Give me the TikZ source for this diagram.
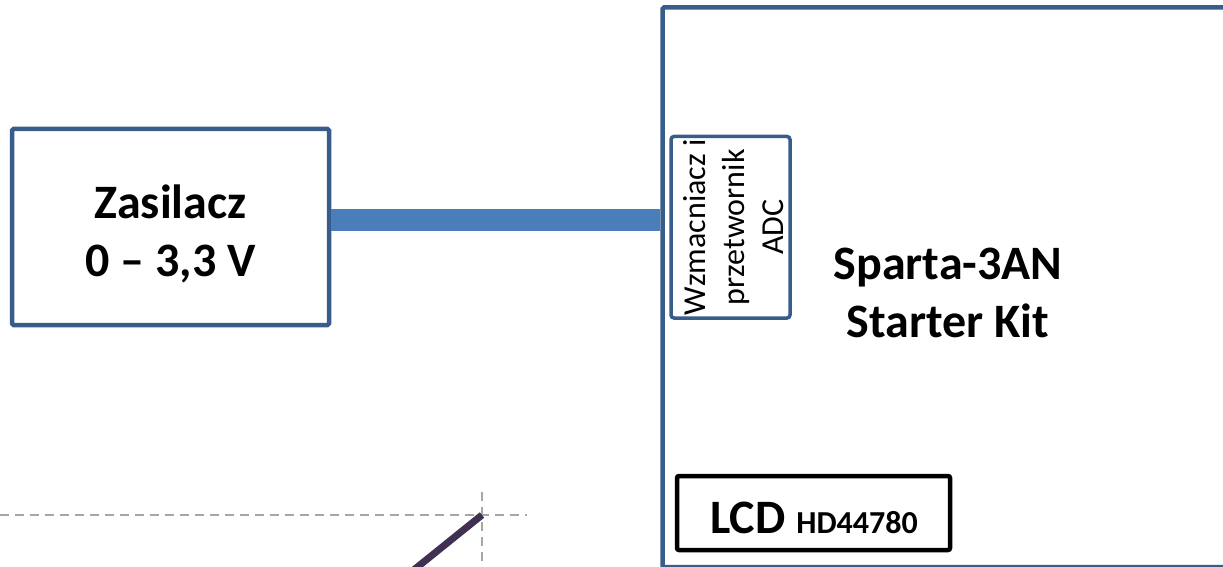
\documentclass[tikz,border=0pt]{standalone}
\usepackage{fontspec}
\setmainfont{Carlito}
\definecolor{boxblue}{HTML}{385D8A}
\definecolor{barblue}{HTML}{4A7EBB}
\definecolor{dashgray}{HTML}{A6A6A6}
\definecolor{darkpurple}{HTML}{403152}
\begin{document}
\begin{tikzpicture}[x=1pt,y=1pt,
  bluebox/.style={draw=boxblue, line width=4.5pt, inner sep=0pt, rounded corners=1.5pt},
  adcbox/.style={draw=boxblue, line width=3.5pt, inner sep=0pt, rounded corners=3pt},
  lcdbox/.style={draw=black, line width=4.5pt, inner sep=0pt, rounded corners=2pt},
  bigtext/.style={font=\bfseries\fontsize{48}{58}\selectfont, align=center},
  bar/.style={line width=22pt, barblue},
  guide/.style={draw=dashgray, line width=1.5pt, dash pattern=on 9pt off 6pt},
  needle/.style={draw=darkpurple, line width=7pt}]
\useasboundingbox (0,0) rectangle (1223,566);
\clip (0,0) rectangle (1223,566);
% boxes
\node[bluebox, minimum width=577.5pt, minimum height=559.5pt] (sparta) at (951.25,278.75) {};
\node[bigtext] (spartatext) at (948,273) {Sparta-3AN\\Starter Kit};
\node[bluebox, minimum width=317pt, minimum height=196pt] (zas) at (170.5,339) {};
\node[bigtext] (zastext) at (170.5,332) {Zasilacz\\0 – 3,3 V};
\node[adcbox, rotate=90, minimum width=181.5pt, minimum height=119pt] (adc) at (730.5,338.75) {};
\node[rotate=90, align=center, font=\fontsize{32}{39}\selectfont] (adctext) at (734,338.75)
  {Wzmacniacz i\\przetwornik\\ADC};
\node[lcdbox, minimum width=273pt, minimum height=74pt] (lcd) at (813.5,53) {};
\node[font=\bfseries, inner sep=0pt] (lcdtext) at (814,48)
  {\fontsize{48}{48}\selectfont LCD \fontsize{32}{32}\selectfont HD44780};
% connector bar
\coordinate (c1) at ([yshift=7.5pt]zas.east);
\draw[bar] (c1) -- (c1 -| sparta.west);
% guide lines and needle
\coordinate (cross) at (482,51);
\coordinate (hstart) at (0,51);
\coordinate (hend) at (527,51);
\coordinate (vtop) at (482,74);
\coordinate (vbot) at (482,0);
\coordinate (ntip) at (400,-15);
\draw[guide] (hstart) -- (hend);
\draw[guide] (vtop) -- (vbot);
\draw[needle] (cross) -- (ntip);
\end{tikzpicture}
\end{document}
